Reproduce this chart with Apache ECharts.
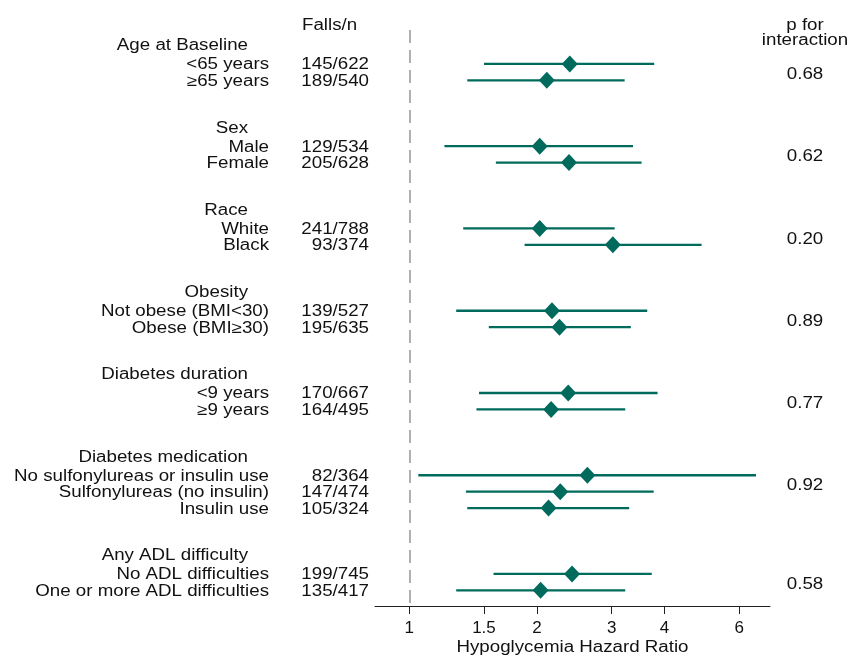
<!DOCTYPE html>
<html>
<head>
<meta charset="utf-8">
<script src="https://cdn.jsdelivr.net/npm/echarts@6/dist/echarts.min.js"></script>
<style>
  html, body { margin: 0; padding: 0; background: #fff; }
  #main { width: 849px; height: 660px; }
</style>
</head>
<body>
<div id="main"></div>
<script>
var groups = ['Age at Baseline', 'Sex', 'Race', 'Obesity', 'Diabetes duration', 'Diabetes medication', 'Any ADL difficulty']
var groupSizes = [2, 2, 2, 2, 2, 3, 2]
var pInteraction = ['0.68', '0.62', '0.20', '0.89', '0.77', '0.92', '0.58']
var subgroups = ['<65 years', '≥65 years', 'Male', 'Female', 'White', 'Black',
  'Not obese (BMI<30)', 'Obese (BMI≥30)', '<9 years', '≥9 years',
  'No sulfonylureas or insulin use', 'Sulfonylureas (no insulin)', 'Insulin use',
  'No ADL difficulties', 'One or more ADL difficulties']
var fallsN = ['145/622', '189/540', '129/534', '205/628', '241/788', '93/374', '139/527', '195/635',
  '170/667', '164/495', '82/364', '147/474', '105/324', '199/745', '135/417']
var hr = [2.39, 2.11, 2.03, 2.38, 2.03, 3.02, 2.17, 2.26, 2.37, 2.16, 2.63, 2.27, 2.13, 2.42, 2.04]
var lower = [1.50, 1.37, 1.21, 1.60, 1.34, 1.87, 1.29, 1.54, 1.46, 1.44, 1.05, 1.36, 1.37, 1.58, 1.29]
var upper = [3.78, 3.22, 3.37, 3.53, 3.05, 4.89, 3.64, 3.33, 3.85, 3.23, 6.57, 3.77, 3.30, 3.73, 3.23]
var tickValues = [1, 1.5, 2, 3, 4, 6]
var xRange = [0.83, 7.09]

var teal = '#006a5d'
var font = '"Liberation Sans", Arial, sans-serif'

// row slots: each group gets its rows, then a gap of 3 slots
var rowSlot = []
var groupStart = []
var s = 0
groupSizes.forEach(function (n) {
  groupStart.push(s)
  for (var i = 0; i < n; i++) rowSlot.push(s + i)
  s += n + 3
})

var lg = Math.log10
var ciData = rowSlot.map(function (y, i) { return [lg(lower[i]), lg(upper[i]), y] })
var pointData = rowSlot.map(function (y, i) { return [lg(hr[i]), y] })

var chart = echarts.init(document.getElementById('main'))

var option = {
  animation: false,
  grid: { left: 375, right: 79, top: 30, bottom: 54 },
  xAxis: {
    type: 'value',
    min: lg(xRange[0]),
    max: lg(xRange[1]),
    axisLine: { show: true, onZero: false, lineStyle: { color: '#222', width: 1 } },
    axisTick: { show: true, length: 8, lineStyle: { color: '#222' }, customValues: tickValues.map(lg) },
    axisLabel: {
      customValues: tickValues.map(lg),
      fontSize: 17, fontFamily: font, color: '#111', margin: 14,
      formatter: function (v) { return String(Math.round(Math.pow(10, v) * 10) / 10) }
    },
    splitLine: { show: false }
  },
  yAxis: {
    type: 'value',
    inverse: true,
    min: -2.06,
    max: 32.95,
    show: false
  },
  series: [
    {
      type: 'custom',
      data: ciData,
      encode: { x: [0, 1], y: 2 },
      renderItem: function (params, api) {
        var p1 = api.coord([api.value(0), api.value(2)])
        var p2 = api.coord([api.value(1), api.value(2)])
        return {
          type: 'line',
          shape: { x1: p1[0], y1: p1[1], x2: p2[0], y2: p2[1] },
          style: { stroke: teal, lineWidth: 2.4 }
        }
      },
      z: 3
    },
    {
      type: 'scatter',
      data: pointData,
      symbol: 'diamond',
      symbolSize: [16, 17],
      itemStyle: { color: teal, opacity: 1 },
      z: 4,
      markLine: {
        silent: true,
        symbol: 'none',
        label: { show: false },
        lineStyle: { color: '#b0b0b0', width: 2, type: [13, 7] },
        data: [{ xAxis: 0 }]
      }
    }
  ]
}
chart.setOption(option)

function txt(text, x, y, align) {
  return {
    type: 'text', x: x, y: y + 1, scaleX: 1.17, silent: true,
    style: {
      text: text, fill: '#111', font: '16px ' + font,
      align: align, textAlign: align, verticalAlign: 'middle', textVerticalAlign: 'middle'
    }
  }
}
function py(slot) { return chart.convertToPixel({ yAxisIndex: 0 }, slot) }

var els = []
els.push(txt('Falls/n', 302, py(-2.37), 'left'))
els.push(txt('p for', 805, py(-2.37), 'center'))
els.push(txt('interaction', 805, py(-1.45), 'center'))
groups.forEach(function (g, k) {
  els.push(txt(g, 248, py(groupStart[k] - 1.15), 'right'))
  els.push(txt(pInteraction[k], 805, py(groupStart[k] + 0.6), 'center'))
})
subgroups.forEach(function (name, i) {
  els.push(txt(name, 269, py(rowSlot[i]), 'right'))
  els.push(txt(fallsN[i], 369, py(rowSlot[i]), 'right'))
})
els.push(txt('Hypoglycemia Hazard Ratio', 572.5, 647, 'center'))

chart.setOption({ graphic: { elements: els } })
</script>
</body>
</html>
